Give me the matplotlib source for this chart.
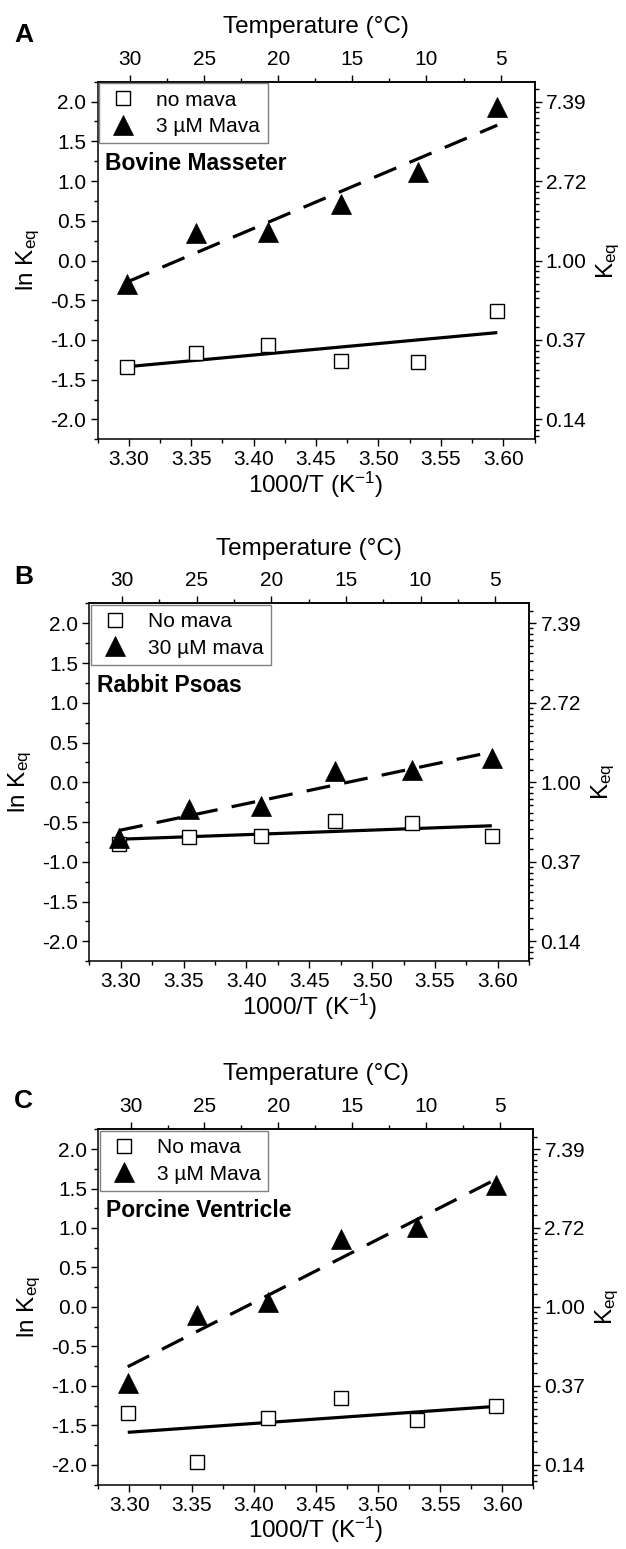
import numpy as np
import matplotlib
matplotlib.use("Agg")
import matplotlib.pyplot as plt
from matplotlib.ticker import FixedLocator, MultipleLocator

plt.rcParams['font.family'] = ['Liberation Sans', 'DejaVu Sans']
plt.rcParams['mathtext.fontset'] = 'custom'
plt.rcParams['mathtext.rm'] = 'Liberation Sans'
plt.rcParams['mathtext.it'] = 'Liberation Sans:italic'
plt.rcParams['mathtext.bf'] = 'Liberation Sans:bold'

# ---------------- data ----------------
temps_c = [30, 25, 20, 15, 10, 5]

panel_letters = ["A", "B", "C"]
panel_titles = ["Bovine Masseter", "Rabbit Psoas", "Porcine Ventricle"]
ctrl_labels = ["no mava", "No mava", "No mava"]
mava_labels = ["3 µM Mava", "30 µM mava", "3 µM Mava"]

ctrl_A = [-1.34, -1.17, -1.06, -1.27, -1.28, -0.64]
mava_A = [-0.29, 0.34, 0.36, 0.71, 1.11, 1.93]

ctrl_B = [-0.77, -0.69, -0.67, -0.49, -0.51, -0.67]
mava_B = [-0.70, -0.34, -0.30, 0.14, 0.16, 0.30]

ctrl_C = [-1.35, -1.96, -1.41, -1.16, -1.43, -1.26]
mava_C = [-0.96, -0.10, 0.06, 0.86, 1.01, 1.55]

ln_ticks = [-2.0, -1.5, -1.0, -0.5, 0.0, 0.5, 1.0, 1.5, 2.0]
x_ticks = [3.30, 3.35, 3.40, 3.45, 3.50, 3.55, 3.60]
k_major = [-2, -1, 0, 1, 2]

# ---------------- layout ----------------
W, H = 626, 1549
fig = plt.figure(figsize=(W / 100, H / 100), dpi=100)

boxes = [  # left, right, top, bottom in pixels
    (97.5, 534.5, 81.7, 439.3),
    (89.3, 529.3, 603.4, 961.2),
    (98.3, 533.3, 1129.3, 1484.5),
]
letter_pos = [(14, 35), (14, 577), (14, 1101)]

XL, XR = 3.275, 3.625
YL, YH = -2.25, 2.25
T_L = 1000 / XL - 273.15
T_R = 1000 / XR - 273.15


def x_to_t(x):
    return T_L + (np.asarray(x) - XL) / (XR - XL) * (T_R - T_L)


def t_to_x(t):
    return XL + (np.asarray(t) - T_L) / (T_R - T_L) * (XR - XL)


def safe_exp(y):
    return np.exp(np.clip(y, -50, 50))


def safe_log(k):
    k = np.asarray(k, dtype=float)
    return np.log(np.where(k > 0, k, 1e-20))


# right-axis minor ticks: 9 evenly spaced in K between exp majors
kvals = [np.exp(v) for v in [-3, -2, -1, 0, 1, 2, 3]]
k_minor = []
for a, b in zip(kvals[:-1], kvals[1:]):
    for i in range(1, 10):
        k_minor.append(a + (b - a) * i / 10)
k_minor = [k for k in k_minor if YL <= np.log(k) <= YH]

x_data = 1000 / (np.array(temps_c) + 273.15)
ctrl_all = [ctrl_A, ctrl_B, ctrl_C]
mava_all = [mava_A, mava_B, mava_C]

FS_TICK = 15
FS_LAB = 17.5
LW_AX = 1.1

for p in range(3):
    l, r, t, b = boxes[p]
    ax = fig.add_axes([l / W, 1 - b / H, (r - l) / W, (b - t) / H])
    ax.set_xlim(XL, XR)
    ax.set_ylim(YL, YH)
    for s in ax.spines.values():
        s.set_linewidth(LW_AX)

    ctrl = np.array(ctrl_all[p])
    mava = np.array(mava_all[p])

    # linear fits
    xf = np.array([x_data.min(), x_data.max()])
    pc = np.polyfit(x_data, ctrl, 1)
    pm = np.polyfit(x_data, mava, 1)
    ax.plot(xf, np.polyval(pc, xf), color='black', lw=2.3, solid_capstyle='butt', zorder=2)
    ax.plot(xf, np.polyval(pm, xf), color='black', lw=2.3, dashes=(7.5, 4.5), zorder=2)

    ax.plot(x_data, ctrl, ls='none', marker='s', ms=10, mfc='white', mec='black',
            mew=1.0, label=ctrl_labels[p], zorder=3)
    ax.plot(x_data, mava, ls='none', marker='^', ms=14.5, mfc='black', mec='black',
            mew=0.5, label=mava_labels[p], zorder=3)

    leg = ax.legend(loc='upper left', bbox_to_anchor=(0.0, 1.0), borderaxespad=0.08,
                    fontsize=FS_TICK, frameon=True, fancybox=False, handlelength=1.6,
                    handletextpad=0.8, borderpad=0.35, labelspacing=0.35,
                    edgecolor='#808080', framealpha=1)
    leg.get_frame().set_linewidth(1.0)

    ax.text(0.018, 0.77, panel_titles[p], transform=ax.transAxes, fontsize=16.5,
            fontweight='bold', ha='left', va='center')

    # bottom / left axis
    ax.set_xticks(x_ticks)
    ax.set_xticklabels([f"{v:.2f}" for v in x_ticks])
    ax.xaxis.set_minor_locator(MultipleLocator(0.025))
    ax.set_yticks(ln_ticks)
    ax.set_yticklabels([f"{v:.1f}" for v in ln_ticks])
    ax.yaxis.set_minor_locator(MultipleLocator(0.25))
    ax.tick_params(axis='both', which='major', direction='out', length=5, width=1.0,
                   labelsize=FS_TICK, pad=3)
    ax.tick_params(axis='both', which='minor', direction='out', length=3, width=1.0)
    ax.tick_params(top=False, right=False, which='both')
    ax.set_xlabel('1000/T (K$^{-1}$)', fontsize=FS_LAB, labelpad=0)
    ax.set_ylabel('ln K$_{\\mathrm{eq}}$', fontsize=FS_LAB, labelpad=6)

    # top axis: temperature
    axt = ax.secondary_xaxis('top', functions=(x_to_t, t_to_x))
    axt.set_xticks(temps_c)
    axt.set_xticklabels([str(v) for v in temps_c])
    axt.xaxis.set_minor_locator(FixedLocator([27.5, 22.5, 17.5, 12.5, 7.5]))
    axt.tick_params(which='major', direction='out', length=5, width=1.0,
                    labelsize=FS_TICK, pad=4.5)
    axt.tick_params(which='minor', direction='out', length=3, width=1.0)
    axt.spines['top'].set_linewidth(LW_AX)
    axt.set_xlabel('Temperature (°C)', fontsize=FS_LAB, labelpad=12)

    # right axis: K_eq
    axr = ax.secondary_yaxis('right', functions=(safe_exp, safe_log))
    axr.set_yticks([np.exp(v) for v in k_major])
    axr.set_yticklabels([f"{np.exp(v):.2f}" for v in k_major])
    axr.yaxis.set_minor_locator(FixedLocator(k_minor))
    axr.tick_params(which='major', direction='out', length=5, width=1.0,
                    labelsize=FS_TICK, pad=3)
    axr.tick_params(which='minor', direction='out', length=3, width=1.0)
    axr.spines['right'].set_linewidth(LW_AX)
    axr.set_ylabel('K$_{\\mathrm{eq}}$', fontsize=FS_LAB, labelpad=6)

    lx, ly = letter_pos[p]
    fig.text(lx / W, 1 - ly / H, panel_letters[p], fontsize=19, fontweight='bold',
             ha='left', va='center')

fig.savefig('out.png', dpi=100, facecolor='white')
